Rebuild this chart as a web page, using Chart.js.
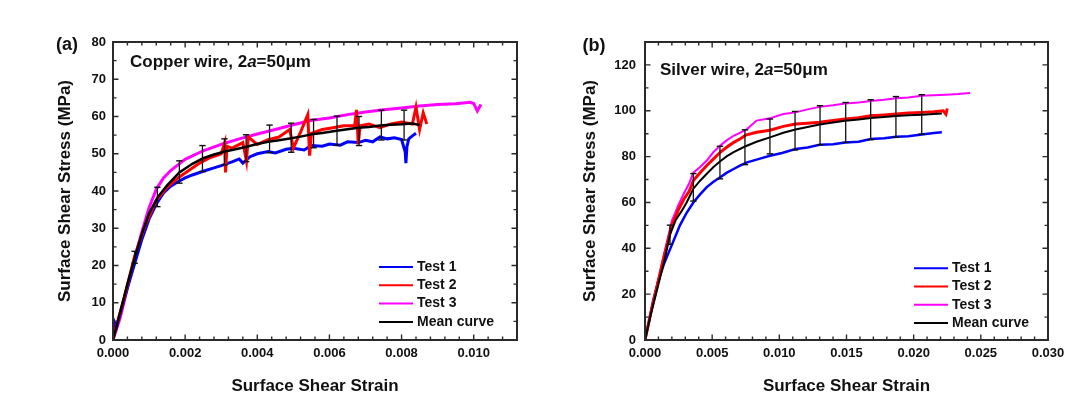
<!DOCTYPE html>
<html>
<head>
<meta charset="utf-8">
<script src="https://cdn.jsdelivr.net/npm/chart.js@4.4.1/dist/chart.umd.min.js"></script>
<style>
  body { margin: 0; background: #fff; overflow: hidden; width: 1068px; height: 398px; position: relative; }
  canvas { position: absolute; top: 0; }
</style>
</head>
<body>
<canvas id="copperChart" width="534" height="398" style="left:0"></canvas>
<canvas id="silverChart" width="560" height="398" style="left:528px"></canvas>
<script>
// ---------- (a) copper wire ----------
const cuTest1Strain = [0, 0.00003, 0.0001, 0.0002, 0.0004, 0.0006, 0.0008, 0.001, 0.0012, 0.0014, 0.0016, 0.0018, 0.002, 0.0022, 0.0025, 0.0028, 0.003, 0.0033, 0.0035, 0.0036, 0.0038, 0.004, 0.0043, 0.0045, 0.0048, 0.005, 0.0053, 0.0055, 0.0058, 0.006, 0.0063, 0.0065, 0.0068, 0.007, 0.0072, 0.0074, 0.0076, 0.0078, 0.008, 0.0081, 0.00812, 0.00815, 0.0082, 0.0083, 0.0084];
const cuTest1Stress = [0, 5, 3.5, 7, 14, 20.5, 27, 32.5, 36.5, 39.5, 41.3, 42.5, 43.5, 44.3, 45.3, 46.2, 46.8, 47.8, 48.6, 47.5, 49.2, 50.0, 50.6, 50.2, 51.2, 51.5, 51.0, 52.2, 52.0, 52.6, 52.3, 53.2, 53.0, 53.6, 53.2, 54.5, 54.0, 54.3, 53.8, 50.5, 47.5, 52.0, 54.0, 54.8, 55.5];

const cuTest2Strain = [0, 0.0001, 0.0003, 0.0006, 0.0009, 0.0012, 0.0015, 0.0018, 0.0021, 0.0024, 0.0027, 0.003, 0.0031, 0.00312, 0.00316, 0.0033, 0.0036, 0.0037, 0.00375, 0.004, 0.0043, 0.0046, 0.0049, 0.005, 0.0052, 0.0054, 0.00545, 0.0055, 0.0058, 0.0061, 0.0064, 0.0067, 0.00675, 0.0068, 0.00685, 0.0071, 0.0074, 0.0077, 0.008, 0.0083, 0.0084, 0.0085, 0.0086, 0.0087];
const cuTest2Stress = [0, 4, 11, 22.5, 31, 37.5, 41, 43.5, 45.5, 47.5, 49, 50, 53, 45, 52, 51.5, 53, 48, 54.5, 52.5, 53.8, 54.5, 56.5, 51.5, 55.8, 60.5, 49.5, 55.5, 56.5, 57, 57.5, 57.5, 61.8, 52.5, 57.5, 58, 57, 58, 58.5, 58, 62.5, 56.5, 61, 58];

const cuTest3Strain = [0, 0.0002, 0.0004, 0.0006, 0.0008, 0.001, 0.0012, 0.0014, 0.0016, 0.0018, 0.002, 0.0025, 0.003, 0.0035, 0.004, 0.0045, 0.005, 0.0055, 0.006, 0.0065, 0.007, 0.0075, 0.008, 0.0085, 0.009, 0.0095, 0.0099, 0.01, 0.0101, 0.0102];
const cuTest3Stress = [0, 6, 14, 22, 29, 35.5, 40.5, 43.5, 45.5, 47, 48.5, 50.8, 52.5, 54, 55.3, 56.5, 57.8, 59, 59.6, 60.5, 61.2, 61.8, 62.3, 62.8, 63.2, 63.4, 63.8, 63.5, 61.5, 63.2];

const cuMeanStrain = [0, 0.0002, 0.0004, 0.0006, 0.0008, 0.001, 0.00125, 0.0015, 0.00184, 0.0022, 0.0025, 0.0028, 0.0031, 0.0034, 0.0037, 0.004, 0.0043, 0.0046, 0.0049, 0.0052, 0.0055, 0.0058, 0.0062, 0.0065, 0.0068, 0.0071, 0.0074, 0.0077, 0.008, 0.0083, 0.0085];
const cuMeanStress = [0, 7.5, 15, 22, 28.5, 34, 38.5, 41.5, 45, 47.3, 48.8, 49.8, 50.6, 51.2, 51.9, 52.6, 53.2, 53.6, 54.1, 54.6, 55.2, 55.6, 56.2, 56.6, 57, 57.2, 57.6, 57.8, 57.9, 58.1, 57.7];

const cuBarStrain = [0.0006, 0.00123, 0.00184, 0.00248, 0.00309, 0.00369, 0.00434, 0.00494, 0.00556, 0.00621, 0.00682, 0.00744, 0.00807];
const cuBarMean = [22.2, 38.4, 45.1, 48.7, 50.5, 51.5, 54.0, 54.3, 55.4, 56.2, 56.1, 57.7, 57.7];
const cuBarSd = [1.6, 2.6, 3.0, 3.5, 3.5, 3.6, 3.7, 3.9, 3.8, 3.9, 3.9, 4.0, 4.0];

const cuStrainTicks = [0, 0.002, 0.004, 0.006, 0.008, 0.010];
const cuStressTicks = [0, 10, 20, 30, 40, 50, 60, 70, 80];

// ---------- (b) silver wire ----------
const agTest1Strain = [0, 0.0003, 0.0006, 0.001, 0.0014, 0.002, 0.0026, 0.0031, 0.0036, 0.0041, 0.0046, 0.0051, 0.0056, 0.0061, 0.0066, 0.0071, 0.0076, 0.0085, 0.0093, 0.0102, 0.0112, 0.0121, 0.013, 0.014, 0.0149, 0.0159, 0.0168, 0.0178, 0.0187, 0.0196, 0.0206, 0.0215, 0.0221];
const agTest1Stress = [0, 8, 17, 26, 33, 41.5, 50, 55.5, 60, 63.5, 66.7, 69, 71, 73, 74.6, 76.2, 77.5, 79, 80.4, 81.6, 83.3, 84, 85.2, 85.4, 86.2, 86.5, 87.7, 88, 88.7, 88.9, 89.6, 90.3, 90.6];

const agTest2Strain = [0, 0.0004, 0.0009, 0.0014, 0.002, 0.0025, 0.0029, 0.0033, 0.0036, 0.0041, 0.0046, 0.0051, 0.0056, 0.0061, 0.0066, 0.0071, 0.0075, 0.0083, 0.0093, 0.0103, 0.0112, 0.0121, 0.013, 0.014, 0.0149, 0.0159, 0.0168, 0.0178, 0.0187, 0.0196, 0.0206, 0.0215, 0.0222, 0.0224, 0.0225];
const agTest2Stress = [0, 11, 23.5, 36, 50, 57, 61.5, 65, 69.6, 73, 76.1, 79, 81.9, 84.2, 86.2, 87.8, 89.4, 90.6, 91.5, 93.2, 94.2, 94.6, 95.0, 95.8, 96.4, 97, 97.8, 98.2, 98.6, 99, 99.3, 99.6, 100, 98.5, 101];

const agTest3Strain = [0, 0.0004, 0.0009, 0.0014, 0.002, 0.0025, 0.0029, 0.0033, 0.0036, 0.0041, 0.0046, 0.0051, 0.0056, 0.0061, 0.0066, 0.0071, 0.0076, 0.0083, 0.0093, 0.0103, 0.0112, 0.0121, 0.013, 0.014, 0.0149, 0.0159, 0.0168, 0.0178, 0.0187, 0.0196, 0.0206, 0.0215, 0.0224, 0.0233, 0.0242];
const agTest3Stress = [0, 11, 24, 37, 52, 59, 64, 68.5, 73, 75.5, 78.3, 82, 84.8, 87.2, 89.1, 90.5, 92, 95.7, 96.7, 98.6, 99.3, 100.6, 101.7, 102.4, 103.2, 103.6, 104.3, 104.8, 105.5, 105.8, 106.5, 106.8, 107, 107.3, 107.8];

const agMeanStrain = [0, 0.0004, 0.0009, 0.0015, 0.00186, 0.0023, 0.0027, 0.0031, 0.0036, 0.0041, 0.0046, 0.0051, 0.0056, 0.0061, 0.0066, 0.0074, 0.0083, 0.0093, 0.0103, 0.0112, 0.0121, 0.013, 0.014, 0.0149, 0.0159, 0.0168, 0.0178, 0.0187, 0.0196, 0.0206, 0.0215, 0.0221];
const agMeanStress = [0, 10.5, 22, 36, 46, 52.5, 56, 60, 66, 69.5, 72.5, 75.5, 78, 80.2, 82, 84.3, 86.5, 88.4, 90.4, 91.8, 92.9, 94, 94.9, 95.6, 96.2, 96.8, 97.3, 97.7, 98, 98.3, 98.6, 98.8];

const agBarStrain = [0.00186, 0.0036, 0.00558, 0.00744, 0.0093, 0.01117, 0.01303, 0.01494, 0.0168, 0.01868, 0.0206];
const agBarMean = [45.9, 66.6, 77.4, 84.1, 88.8, 91.3, 93.7, 94.9, 96.1, 97.3, 98.4];
const agBarSd = [4.2, 6.0, 7.1, 7.6, 7.6, 8.4, 8.5, 8.7, 8.7, 8.9, 8.6];

const agStrainTicks = [0, 0.005, 0.010, 0.015, 0.020, 0.025, 0.030];
const agStressTicks = [0, 20, 40, 60, 80, 100, 120];

const seriesLabels = ['Test 1', 'Test 2', 'Test 3', 'Mean curve'];
const seriesColors = ['#0000ff', '#ff0000', '#ff00ff', '#000000'];

const FONT = '"Liberation Sans", Arial, sans-serif';

function pts(xs, ys) {
    return xs.map((x, i) => ({ x: x, y: ys[i] }));
}

// error bars: low/high pairs separated by a gap point
function barPts(xs, m, sd) {
    const out = [];
    xs.forEach((x, i) => {
        out.push({ x: x, y: m[i] - sd[i] }, { x: x, y: m[i] + sd[i] }, { x: x, y: null });
    });
    return out;
}

// frame, inward ticks, panel letter, note and legend
const panelDeco = {
    id: 'panelDeco',
    afterDatasetsDraw(chart, args, o) {
        const { ctx, chartArea: a, scales: { x, y } } = chart;
        ctx.save();
        ctx.strokeStyle = '#2a2a2a';
        ctx.lineWidth = 2;
        ctx.strokeRect(a.left, a.top, a.right - a.left, a.bottom - a.top);

        ctx.lineWidth = 1.4;
        ctx.beginPath();
        const nx = Math.round((x.max - x.min) / o.xMinor);
        for (let i = 1; i < nx; i++) {
            const px = x.getPixelForValue(x.min + i * o.xMinor);
            const len = i % o.xEvery === 0 ? 5.5 : 3.5;
            ctx.moveTo(px, a.bottom); ctx.lineTo(px, a.bottom - len);
            ctx.moveTo(px, a.top); ctx.lineTo(px, a.top + len);
        }
        const ny = Math.round((y.max - y.min) / o.yMinor);
        for (let i = 1; i < ny; i++) {
            const py = y.getPixelForValue(y.min + i * o.yMinor);
            const len = i % o.yEvery === 0 ? 5.5 : 3.5;
            ctx.moveTo(a.left, py); ctx.lineTo(a.left + len, py);
            ctx.moveTo(a.right, py); ctx.lineTo(a.right - len, py);
        }
        ctx.stroke();

        ctx.fillStyle = '#111';
        ctx.textBaseline = 'middle';
        ctx.textAlign = 'center';
        ctx.font = 'bold 18px ' + FONT;
        ctx.fillText(o.letter, o.letterX, o.letterY);

        // note with italic "a"
        ctx.textAlign = 'left';
        let nxPos = o.noteX;
        ctx.font = 'bold 17px ' + FONT;
        ctx.fillText(o.notePre, nxPos, o.noteY);
        nxPos += ctx.measureText(o.notePre).width;
        ctx.font = 'italic bold 17px ' + FONT;
        ctx.fillText('a', nxPos, o.noteY);
        nxPos += ctx.measureText('a').width;
        ctx.font = 'bold 17px ' + FONT;
        ctx.fillText('=50\u03bcm', nxPos, o.noteY);

        // legend
        ctx.font = 'bold 14px ' + FONT;
        seriesLabels.forEach((lab, i) => {
            const ly = o.legendY + i * o.legendGap;
            ctx.strokeStyle = seriesColors[i];
            ctx.lineWidth = 2;
            ctx.beginPath();
            ctx.moveTo(o.legendX, ly);
            ctx.lineTo(o.legendX + 34, ly);
            ctx.stroke();
            ctx.fillText(lab, o.legendX + 38, ly);
        });
        ctx.restore();
    }
};

function makeChart(id, cfg) {
    const datasets = [
        { label: seriesLabels[0], data: pts(cfg.t1[0], cfg.t1[1]), borderColor: seriesColors[0], borderWidth: cfg.w[0], order: 3 },
        { label: seriesLabels[1], data: pts(cfg.t2[0], cfg.t2[1]), borderColor: seriesColors[1], borderWidth: cfg.w[1], order: 2 },
        { label: seriesLabels[2], data: pts(cfg.t3[0], cfg.t3[1]), borderColor: seriesColors[2], borderWidth: cfg.w[2], order: 4 },
        { label: seriesLabels[3], data: pts(cfg.mean[0], cfg.mean[1]), borderColor: seriesColors[3], borderWidth: cfg.w[3], order: 1 },
        {
            label: 'error', data: barPts(cfg.bars[0], cfg.bars[1], cfg.bars[2]),
            borderColor: '#111', borderWidth: 1.3, order: 0,
            pointStyle: 'line', pointRadius: 3.2, pointBorderWidth: 1.4, pointBorderColor: '#111',
            spanGaps: false
        }
    ];
    datasets.forEach(d => {
        d.showLine = true;
        d.fill = false;
        d.tension = 0;
        if (d.label !== 'error') d.pointRadius = 0;
    });

    return new Chart(document.getElementById(id).getContext('2d'), {
        type: 'scatter',
        data: { datasets: datasets },
        plugins: [panelDeco],
        options: {
            responsive: false,
            animation: false,
            devicePixelRatio: 1,
            layout: { padding: { left: 0, top: 42, right: cfg.padRight, bottom: 0 } },
            plugins: {
                legend: { display: false },
                tooltip: { enabled: false },
                panelDeco: cfg.deco
            },
            scales: {
                x: {
                    type: 'linear', min: 0, max: cfg.xMax,
                    grid: { display: false, drawTicks: false },
                    border: { display: false },
                    afterBuildTicks: s => { s.ticks = cfg.xTicks.map(v => ({ value: v })); },
                    afterFit: s => { s.height = 58; },
                    ticks: {
                        padding: 6, color: '#111',
                        font: { family: FONT, size: 13, weight: 'bold' },
                        callback: v => v.toFixed(3)
                    },
                    title: {
                        display: true, text: 'Surface Shear Strain', color: '#111',
                        font: { family: FONT, size: 17, weight: 'bold' },
                        padding: { top: 0, bottom: 1 }
                    }
                },
                y: {
                    type: 'linear', min: 0, max: cfg.yMax,
                    grid: { display: false, drawTicks: false },
                    border: { display: false },
                    afterBuildTicks: s => { s.ticks = cfg.yTicks.map(v => ({ value: v })); },
                    afterFit: s => { s.width = cfg.yWidth; },
                    ticks: {
                        padding: cfg.yPad, color: '#111',
                        font: { family: FONT, size: 13, weight: 'bold' },
                        callback: v => String(v)
                    },
                    title: {
                        display: true, text: 'Surface Shear Stress (MPa)', color: '#111',
                        font: { family: FONT, size: 17, weight: 'bold' },
                        padding: { top: cfg.yTitlePad, bottom: 0 }
                    }
                }
            }
        }
    });
}

makeChart('copperChart', {
    t1: [cuTest1Strain, cuTest1Stress],
    t2: [cuTest2Strain, cuTest2Stress],
    t3: [cuTest3Strain, cuTest3Stress],
    mean: [cuMeanStrain, cuMeanStress],
    bars: [cuBarStrain, cuBarMean, cuBarSd],
    w: [3, 3, 3, 2.5],
    xMax: 0.0112, yMax: 80,
    xTicks: cuStrainTicks, yTicks: cuStressTicks,
    padRight: 17, yWidth: 113, yPad: 7, yTitlePad: 55,
    deco: {
        xMinor: 0.0004, xEvery: 5, yMinor: 5, yEvery: 2,
        letter: '(a)', letterX: 67, letterY: 45,
        notePre: 'Copper wire, 2', noteX: 130, noteY: 62,
        legendX: 379, legendY: 267, legendGap: 18.3
    }
});

makeChart('silverChart', {
    t1: [agTest1Strain, agTest1Stress],
    t2: [agTest2Strain, agTest2Stress],
    t3: [agTest3Strain, agTest3Stress],
    mean: [agMeanStrain, agMeanStress],
    bars: [agBarStrain, agBarMean, agBarSd],
    w: [2.5, 3, 2, 2],
    xMax: 0.030, yMax: 130,
    xTicks: agStrainTicks, yTicks: agStressTicks,
    padRight: 40, yWidth: 117, yPad: 9, yTitlePad: 52,
    deco: {
        xMinor: 0.001, xEvery: 5, yMinor: 10, yEvery: 2,
        letter: '(b)', letterX: 66, letterY: 46,
        notePre: 'Silver wire, 2', noteX: 132, noteY: 70,
        legendX: 386, legendY: 268.3, legendGap: 18.2
    }
});
</script>
</body>
</html>
